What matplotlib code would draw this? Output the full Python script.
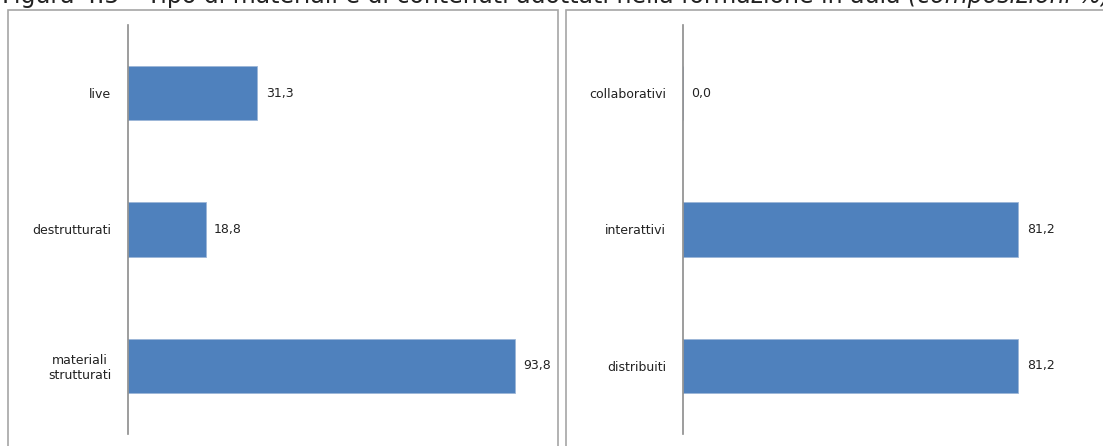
import matplotlib.pyplot as plt
from matplotlib.patches import Rectangle

# materiali (sinistra) e contenuti (destra), valori in %
materiali = ['live', 'destrutturati', 'materiali\nstrutturati']
val_materiali = [31.3, 18.8, 93.8]
contenuti = ['collaborativi', 'interattivi', 'distribuiti']
val_contenuti = [0.0, 81.2, 81.2]

titolo = 'Figura 4.5 \u2013 Tipo di materiali e di contenuti adottati nella formazione in aula '
titolo_corsivo = '(composizioni %)'

W, H = 1103, 446
blu = '#4F81BD'

fig = plt.figure(figsize=(W / 100, H / 100), dpi=100)
fig.patch.set_facecolor('white')

# titolo tagliato in alto, parte finale in corsivo
t = fig.text(2 / W, 1 + 4 / H, titolo, fontsize=17, color='#222222', va='center', ha='left')
fig.canvas.draw()
bb = t.get_window_extent()
fig.text(bb.x1 / W, 1 + 4 / H, titolo_corsivo, fontsize=17, color='#222222',
         va='center', ha='left', style='italic')

# cornici dei due riquadri
for x0, x1 in [(8, 558), (566, 1110)]:
    fig.patches.append(Rectangle((x0 / W, -0.05), (x1 - x0) / W, 1.05 - 10 / H,
                                 transform=fig.transFigure, fill=False,
                                 edgecolor='#a6a6a6', linewidth=1.2))


def pannello(left_px, cats, vals):
    ax = fig.add_axes([left_px / W, 12 / H, 413 / W, 409 / H])
    y = range(len(cats))
    ax.barh(y, vals, height=0.4, color=blu, edgecolor='#9cb6d8', linewidth=0.6)
    ax.set_xlim(0, 100)
    ax.set_ylim(-0.5, len(cats) - 0.5)
    ax.invert_yaxis()
    ax.set_yticks(list(y))
    ax.set_yticklabels(cats, fontsize=9, color='#222222', multialignment='center')
    ax.tick_params(axis='y', length=0, pad=12)
    ax.set_xticks([])
    for s in ['top', 'right', 'bottom']:
        ax.spines[s].set_visible(False)
    ax.spines['left'].set_color('#8c8c8c')
    ax.spines['left'].set_linewidth(1.2)
    for i, v in enumerate(vals):
        ax.annotate(f'{v:.1f}'.replace('.', ','), (v, i), xytext=(6, 0),
                    textcoords='offset points', va='center', ha='left',
                    fontsize=9, color='#222222')
    return ax


pannello(128, materiali, val_materiali)
pannello(683, contenuti, val_contenuti)

fig.savefig('out.png', dpi=100)
